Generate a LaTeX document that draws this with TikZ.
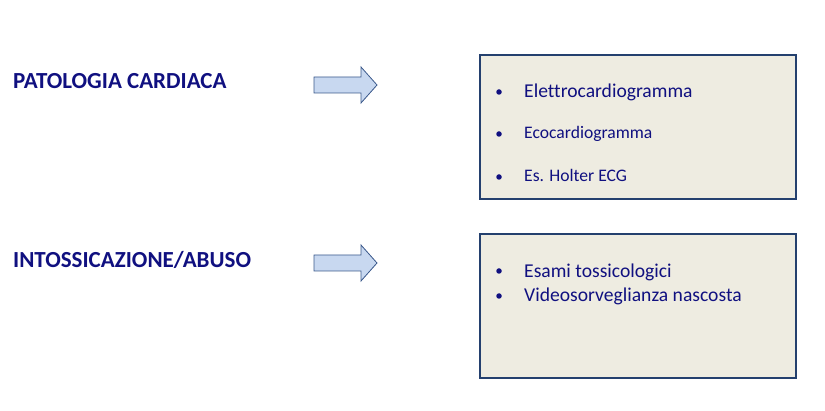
\documentclass[tikz,border=0pt]{standalone}
\usepackage{fontspec}
\setmainfont{Carlito}[Ligatures={NoCommon}]
\definecolor{navy}{RGB}{16,16,128}
\definecolor{boxfill}{RGB}{238,236,225}
\definecolor{boxline}{RGB}{36,64,110}
\definecolor{arrfill}{RGB}{200,216,240}
\definecolor{arrline}{RGB}{60,90,140}
\tikzset{
  title/.style={anchor=base west,inner sep=0pt,text=navy,font=\bfseries\fontsize{23}{26}\selectfont},
  item/.style={anchor=base west,inner sep=0pt,text=navy},
  big/.style={font=\fontsize{19.6}{23}\selectfont},
  small/.style={font=\fontsize{17.6}{20}\selectfont},
  dot/.style={circle,fill=navy,inner sep=0pt,minimum size=5.5pt},
  panel/.style={draw=boxline,line width=2.4pt,fill=boxfill},
  blockarrow/.style={draw=arrline,line width=0.8pt,fill=arrfill,line join=miter}
}
\begin{document}
\begin{tikzpicture}[x=1pt,y=-1pt]
\useasboundingbox (0,0) rectangle (825,411);
% titles
\node[title] (t1) at (13,89) {PATOLOGIA CARDIACA};
\node[title] (t2) at (13,268) {INTOSSICAZIONE/ABUSO};
% arrows
\draw[blockarrow] (314,77) -- (361,77) -- (361,67) -- (377,85) -- (361,103) -- (361,93) -- (314,93) -- cycle;
\draw[blockarrow] (314,255) -- (361,255) -- (361,245) -- (377,263) -- (361,281) -- (361,271) -- (314,271) -- cycle;
% panels
\draw[panel] (480,55) rectangle (796,199);
\draw[panel] (480,234) rectangle (796,378);
% items box 1
\node[dot] (b1) at (499,92) {};
\node[item,big] (i1) at (524,98) {Elettrocardiogramma};
\node[dot] (b2) at (499,134) {};
\node[item,small] (i2) at (524,139) {Ecocardiogramma};
\node[dot] (b3) at (499,177) {};
\node[item,small] (i3) at (524,182) {Es. Holter ECG};
% items box 2
\node[dot] (b4) at (499,271) {};
\node[item,big] (i4) at (524,278) {Esami tossicologici};
\node[dot] (b5) at (499,296) {};
\node[item,big] (i5) at (524,302) {Videosorveglianza nascosta};
\end{tikzpicture}
\end{document}
